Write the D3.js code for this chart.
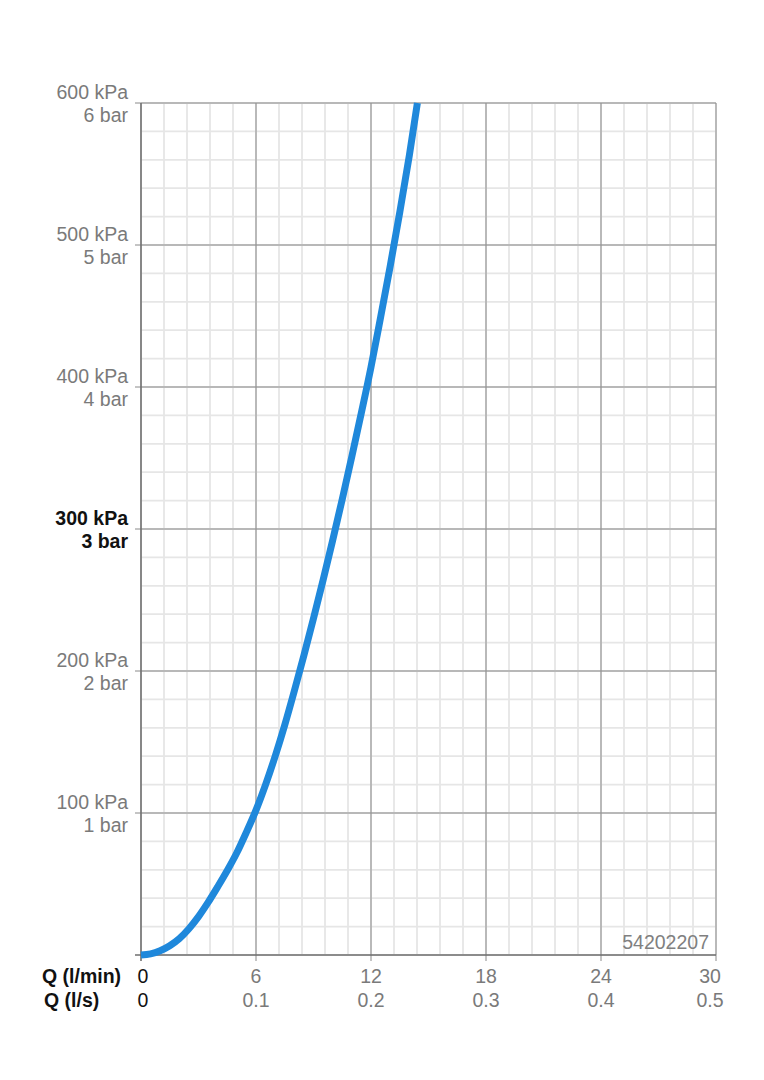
<!DOCTYPE html>
<html><head><meta charset="utf-8">
<script src="https://cdn.jsdelivr.net/npm/d3@7"></script>
<style>body{margin:0;background:#fff;} text{font-family:"Liberation Sans",Arial,Helvetica,sans-serif;}</style>
</head><body>
<svg id="c" width="764" height="1080"></svg>
<script>
const flowLmin = [0, 0.5, 1, 1.5, 2, 2.5, 3, 3.5, 4, 4.5, 5, 5.5, 6, 6.5, 7, 7.5, 8, 8.5, 9, 9.5, 10, 10.5, 11, 11.5, 12, 12.5, 13, 13.5, 14, 14.42];
const pressureKPa = [0, 0.8, 3, 6.5, 11.5, 18.5, 27, 37, 48, 59.5, 72, 86.5, 102, 120, 140, 162, 186, 211, 237, 264, 292, 321, 351, 382, 414, 449, 485, 523, 563, 600];
const yTicksKPa = [100, 200, 300, 400, 500, 600];
const yTickKPaLabels = ["100 kPa", "200 kPa", "300 kPa", "400 kPa", "500 kPa", "600 kPa"];
const yTickBarLabels = ["1 bar", "2 bar", "3 bar", "4 bar", "5 bar", "6 bar"];
const xTicks = [0, 6, 12, 18, 24, 30];
const xTickLminLabels = ["0", "6", "12", "18", "24", "30"];
const xTickLsLabels = ["0", "0.1", "0.2", "0.3", "0.4", "0.5"];
const xAxisTitles = ["Q (l/min)", "Q (l/s)"];
const code = "54202207";

const svg = d3.select("#c");
const L = 141, R = 716, T = 103, B = 955;
const FS = 19.5;
const x = d3.scaleLinear().domain([0, 30]).range([L, R]);
const y = d3.scaleLinear().domain([0, 600]).range([B, T]);

const g = svg.append("g");
// minor grid
const minorX = d3.range(0, 30.001, 1.2);
const minorY = d3.range(0, 600.001, 20);
g.selectAll(".mx").data(minorX).join("line").attr("x1", d => x(d)).attr("x2", d => x(d)).attr("y1", T).attr("y2", B)
  .attr("stroke", "#e6e6e6").attr("stroke-width", 1.8);
g.selectAll(".my").data(minorY).join("line").attr("y1", d => y(d)).attr("y2", d => y(d)).attr("x1", L).attr("x2", R)
  .attr("stroke", "#e6e6e6").attr("stroke-width", 1.8);
// major grid
g.selectAll(".Mx").data(xTicks.slice(1)).join("line").attr("x1", d => x(d)).attr("x2", d => x(d)).attr("y1", T).attr("y2", B + 6)
  .attr("stroke", "#8a8a8a").attr("stroke-width", 1);
g.selectAll(".My").data(yTicksKPa).join("line").attr("y1", d => y(d)).attr("y2", d => y(d)).attr("x1", L - 6).attr("x2", R)
  .attr("stroke", "#8a8a8a").attr("stroke-width", 1);
// axes
g.append("line").attr("x1", L).attr("x2", L).attr("y1", T).attr("y2", B + 6).attr("stroke", "#6e6e6e").attr("stroke-width", 1.6);
g.append("line").attr("x1", L - 6).attr("x2", R).attr("y1", B).attr("y2", B).attr("stroke", "#6e6e6e").attr("stroke-width", 1.6);

// curve
const pts = flowLmin.map((q, i) => [q, pressureKPa[i]]);
svg.append("path").datum(pts)
  .attr("d", d3.line().x(d => x(d[0])).y(d => y(d[1])).curve(d3.curveMonotoneX))
  .attr("fill", "none").attr("stroke", "#1f88db").attr("stroke-width", 7).attr("stroke-linecap", "butt");

// y labels
yTicksKPa.forEach((v, i) => {
  const bold = v === 300;
  const t = svg.append("text").attr("x", 128).attr("text-anchor", "end")
    .attr("font-size", FS).attr("fill", bold ? "#111" : "#7a7a7a").attr("font-weight", bold ? "bold" : "normal");
  t.append("tspan").attr("x", 128).attr("y", y(v) - 4.5).text(yTickKPaLabels[i]);
  t.append("tspan").attr("x", 128).attr("y", y(v) + 19).text(yTickBarLabels[i]);
});

// x labels
xTicks.forEach((v, i) => {
  const first = i === 0, last = i === xTicks.length - 1;
  const xx = first ? x(v) + 2 : (last ? x(v) - 6 : x(v));
  svg.append("text").attr("x", xx).attr("y", 983).attr("text-anchor", "middle").attr("font-size", FS)
    .attr("fill", first ? "#111" : "#7a7a7a").text(xTickLminLabels[i]);
  svg.append("text").attr("x", xx).attr("y", 1007).attr("text-anchor", "middle").attr("font-size", FS)
    .attr("fill", first ? "#111" : "#7a7a7a").text(xTickLsLabels[i]);
});
svg.append("text").attr("x", 42).attr("y", 983).attr("font-size", FS).attr("font-weight", "bold").attr("fill", "#111").text(xAxisTitles[0]);
svg.append("text").attr("x", 44).attr("y", 1007).attr("font-size", FS).attr("font-weight", "bold").attr("fill", "#111").text(xAxisTitles[1]);

svg.append("text").attr("x", 709).attr("y", 949).attr("text-anchor", "end").attr("font-size", FS).attr("fill", "#808080").text(code);
</script>
</body></html>
